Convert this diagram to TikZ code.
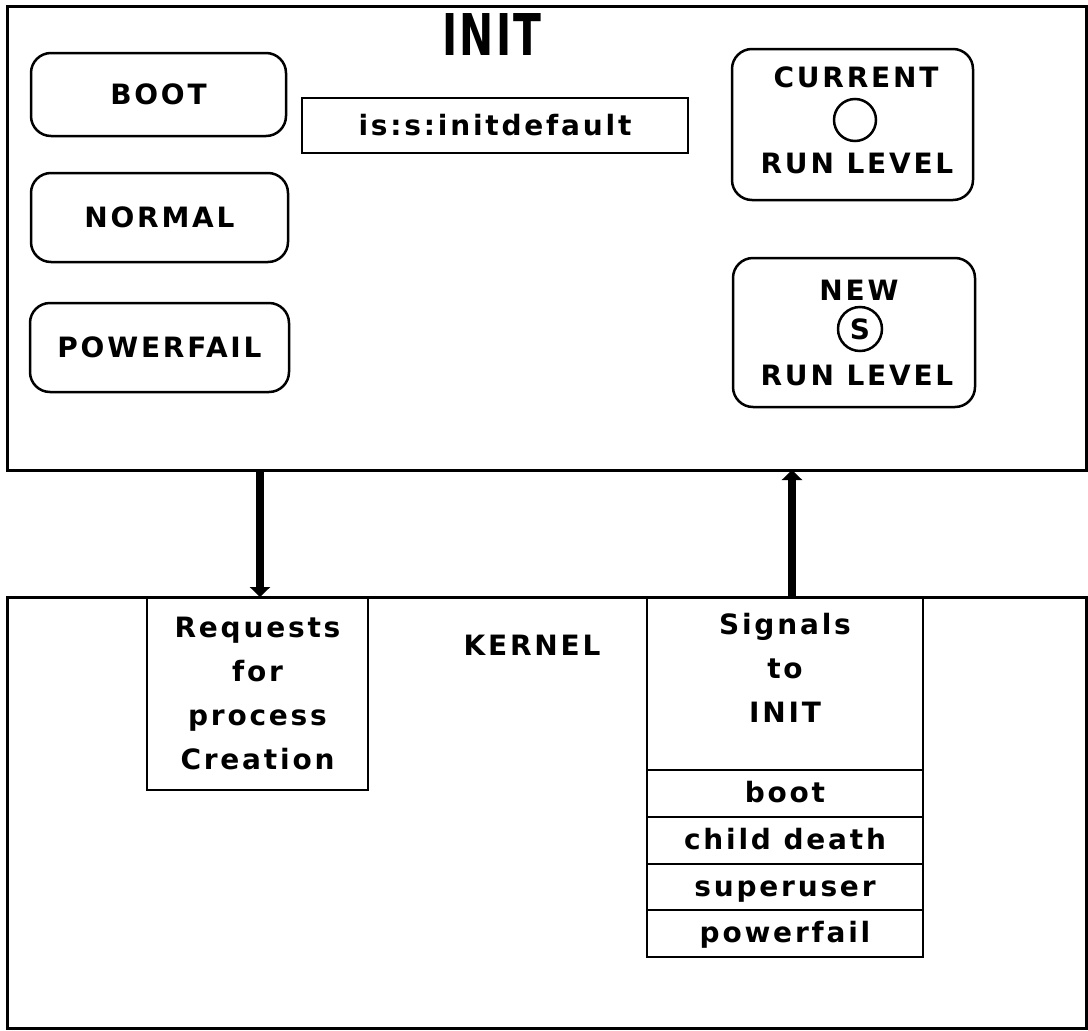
\documentclass[tikz,border=0pt]{standalone}
\usepackage{fontspec}
\usepackage{graphicx}
\setmainfont{DejaVu Sans}
\newfontfamily\lblfont{DejaVu Sans}[LetterSpace=10]
\newfontfamily\titlefont{DejaVu Sans}[LetterSpace=6]
\usetikzlibrary{arrows.meta}
\begin{document}
\begin{tikzpicture}[x=1pt,y=-1pt,
  frame/.style={draw, line width=3pt, inner sep=0pt, outer sep=0pt},
  rbox/.style={draw, line width=2.5pt, rounded corners=20pt, inner sep=0pt, outer sep=0pt,
               font=\lblfont\bfseries\fontsize{28}{34}\selectfont, align=center},
  sbox/.style={draw, line width=2.5pt, inner sep=0pt, outer sep=0pt,
               font=\lblfont\bfseries\fontsize{28}{44}\selectfont, align=center},
  rowbox/.style={sbox, minimum width=276pt, text height=21pt, text depth=3pt},
  txt/.style={inner sep=0pt, font=\lblfont\bfseries\fontsize{28}{44}\selectfont, align=center},
  ring/.style={draw, circle, line width=2.5pt, inner sep=0pt,
               font=\lblfont\bfseries\fontsize{28}{34}\selectfont},
  fat/.style={line width=8pt, -{Triangle[width=20pt,length=10pt]}}
]
\useasboundingbox (0,0) rectangle (1088,1031);
\fill[white] (0,0) rectangle (1088,1031);

% INIT box
\node[frame, minimum width=1079pt, minimum height=464pt] (init) at (546.5,238) {};
\node[inner sep=0pt, font=\titlefont\bfseries\fontsize{48}{48}\selectfont] (initT) at (492,35) {\scalebox{0.85}[1.2]{INIT}};

\node[rbox, minimum width=255pt, minimum height=83pt] (boot) at (158.5,94.5) {BOOT};
\node[rbox, minimum width=257pt, minimum height=89pt] (normal) at (159.5,217.5) {NORMAL};
\node[rbox, minimum width=259pt, minimum height=89pt] (pfail) at (159.5,347.5) {POWERFAIL};

\node[sbox, minimum width=386pt, minimum height=55pt] (isdef) at (495,125.5) {is:s:initdefault};

\node[rbox, minimum width=241pt, minimum height=151pt] (cur) at (852.5,124.5) {};
\node[txt] (curT) at (856,77) {CURRENT};
\node[ring, minimum size=42pt] (curC) at (855,120) {};
\node[txt] (curR) at (857,163) {RUN LEVEL};

\node[rbox, minimum width=242pt, minimum height=149pt] (new) at (854,332.5) {};
\node[txt] (newT) at (859,290) {NEW};
\node[ring, minimum size=44pt] (newC) at (860,329) {S};
\node[txt] (newR) at (857,375) {RUN LEVEL};

% KERNEL box
\node[frame, minimum width=1079pt, minimum height=431pt] (kern) at (546.5,812.5) {};
\node[txt] (kernT) at (532,645) {KERNEL};

\node[sbox, minimum width=221pt, minimum height=193pt] (req) at (257.5,693.5)
  {Requests\\for\\process\\Creation};

\node[sbox, minimum width=276pt, minimum height=173pt] (sig) at (785,683.5) {};
\node[txt] (sigT) at (785,668) {Signals\\to\\INIT};
\node[rowbox, minimum height=47pt] (r1) at (785,793.5) {boot};
\node[rowbox, minimum height=47pt] (r2) at (785,840.5) {child death};
\node[rowbox, minimum height=46pt] (r3) at (785,887) {superuser};
\node[rowbox, minimum height=47pt] (r4) at (785,933.5) {powerfail};

% connectors
\coordinate (a1) at (260,597);
\coordinate (a2) at (792,597);
\draw[fat] (a1 |- init.south) -- (a1);
\draw[fat] (a2) -- (a2 |- init.south);
\end{tikzpicture}
\end{document}
